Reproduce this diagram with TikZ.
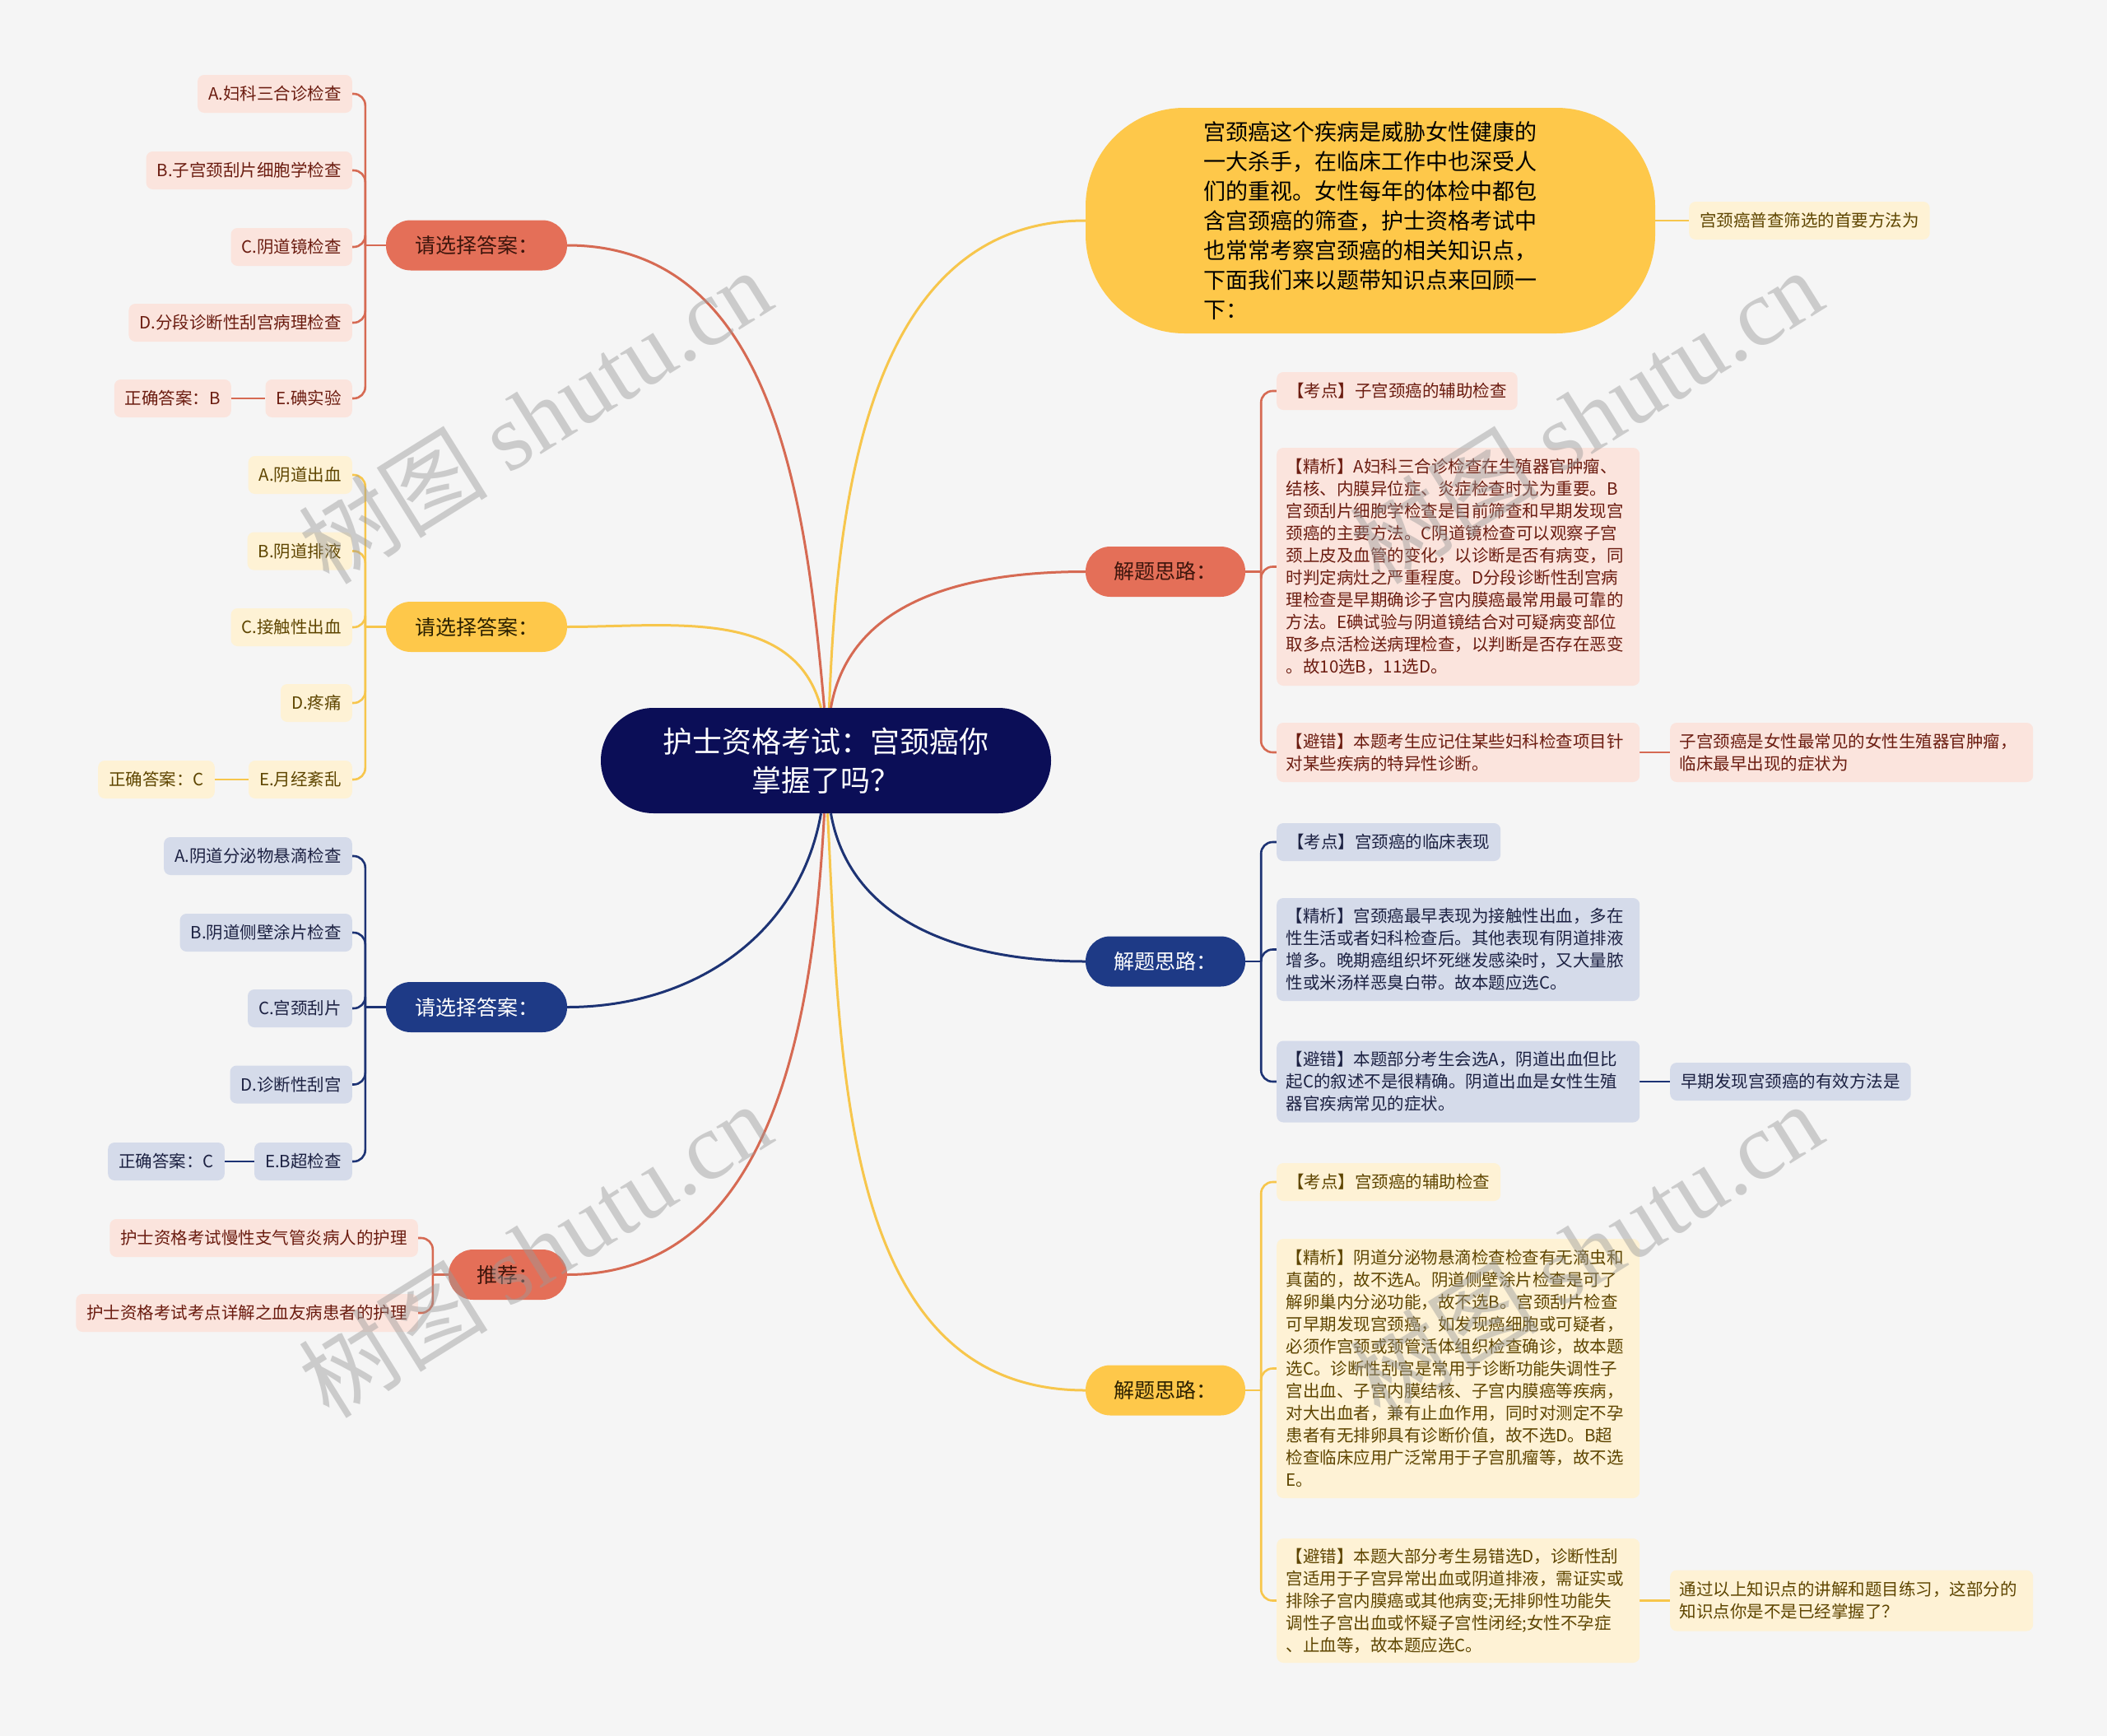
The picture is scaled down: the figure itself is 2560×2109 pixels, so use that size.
\documentclass[tikz,border=0pt]{standalone}
\usepackage{fontspec}
\setmainfont{Noto Sans CJK SC}
\newfontfamily\markfont{Liberation Serif}
\usetikzlibrary{positioning,backgrounds}
\definecolor{Canvas}{HTML}{F5F5F5}
\definecolor{RootFill}{HTML}{0B0E57}
\definecolor{CoralMain}{HTML}{E46F58}
\definecolor{CoralLine}{HTML}{D66A53}
\definecolor{CoralSoft}{HTML}{FBE4DD}
\definecolor{CoralText}{HTML}{6B1C10}
\definecolor{CoralDark}{HTML}{3D150C}
\definecolor{SunMain}{HTML}{FEC84A}
\definecolor{SunLine}{HTML}{F7C64C}
\definecolor{SunSoft}{HTML}{FEF2D5}
\definecolor{SunText}{HTML}{5E4500}
\definecolor{SunDark}{HTML}{2B2000}
\definecolor{NavyMain}{HTML}{1E3A86}
\definecolor{NavyLine}{HTML}{1D3374}
\definecolor{NavySoft}{HTML}{D5DBEA}
\definecolor{NavyText}{HTML}{1C2142}
\definecolor{MarkGray}{HTML}{9A9A9A}

\begin{document}
\begin{tikzpicture}[
    x=1pt, y=1pt,
    rootnode/.style={rounded corners=64pt, fill=RootFill, text=white, minimum width=547pt, minimum height=128pt, align=center, font=\fontsize{36}{47}\selectfont},
    introbox/.style={rounded corners=120pt, fill=SunMain, text=black, minimum width=692pt, minimum height=274pt, text width=406pt, align=left, font=\fontsize{27}{36}\selectfont},
    branchnode/.style={rounded corners=30pt, minimum height=61pt, align=center, font=\fontsize{25}{30}\selectfont},
    leafbox/.style={rounded corners=8pt, minimum height=46pt, inner xsep=13pt, inner ysep=0pt, font=\fontsize{20.5}{27}\selectfont},
    textbox/.style={rounded corners=8pt, inner xsep=11.5pt, inner ysep=0pt, text width=418pt, align=left, font=\fontsize{20.5}{27}\selectfont},
    coralbranch/.style={branchnode, fill=CoralMain, text=CoralDark},
    sunbranch/.style={branchnode, fill=SunMain, text=SunDark},
    navybranch/.style={branchnode, fill=NavyMain, text=white},
    coralleaf/.style={leafbox, fill=CoralSoft, text=CoralText},
    sunleaf/.style={leafbox, fill=SunSoft, text=SunText},
    navyleaf/.style={leafbox, fill=NavySoft, text=NavyText},
    coralbox/.style={textbox, fill=CoralSoft, text=CoralText},
    sunbox/.style={textbox, fill=SunSoft, text=SunText},
    navybox/.style={textbox, fill=NavySoft, text=NavyText},
    mainline/.style={line width=3pt},
    twig/.style={line width=2.6pt, rounded corners=14pt},
    markstyle/.style={rotate=32, text=MarkGray, opacity=0.45, font=\fontsize{115}{115}\selectfont}
]

\node[rootnode] (root) at (1003.5,-924) {护士资格考试：宫颈癌你\\掌握了吗？};

\node[introbox] (intro) at (1665,-268) {宫颈癌这个疾病是威胁女性健康的\\一大杀手，在临床工作中也深受人\\们的重视。女性每年的体检中都包\\含宫颈癌的筛查，护士资格考试中\\也常常考察宫颈癌的相关知识点，\\下面我们来以题带知识点来回顾一\\下：};
\node[sunleaf, anchor=west] (intronote) at (2052,-268) {宫颈癌普查筛选的首要方法为};

\node[coralbranch, minimum width=194pt] (rsolve) at (1416,-694.5) {解题思路：};
\node[coralleaf, anchor=west] (rpoint) at (1551,-475) {【考点】子宫颈癌的辅助检查};
\node[coralbox, anchor=west, minimum height=289pt] (rdetail) at (1551,-688.5) {【精析】A妇科三合诊检查在生殖器官肿瘤、\\结核、内膜异位症、炎症检查时尤为重要。B\\宫颈刮片细胞学检查是目前筛查和早期发现宫\\颈癌的主要方法。C阴道镜检查可以观察子宫\\颈上皮及血管的变化，以诊断是否有病变，同\\时判定病灶之严重程度。D分段诊断性刮宫病\\理检查是早期确诊子宫内膜癌最常用最可靠的\\方法。E碘试验与阴道镜结合对可疑病变部位\\取多点活检送病理检查，以判断是否存在恶变\\。故10选B，11选D。};
\node[coralbox, anchor=west, minimum height=72pt] (rtrap) at (1551,-914) {【避错】本题考生应记住某些妇科检查项目针\\对某些疾病的特异性诊断。};
\node[coralbox, anchor=west, minimum height=72pt] (rtrapnote) at (2029,-914) {子宫颈癌是女性最常见的女性生殖器官肿瘤，\\临床最早出现的症状为};

\node[navybranch, minimum width=194pt] (bsolve) at (1416,-1168) {解题思路：};
\node[navyleaf, anchor=west] (bpoint) at (1551,-1023) {【考点】宫颈癌的临床表现};
\node[navybox, anchor=west, minimum height=125pt] (bdetail) at (1551,-1153.5) {【精析】宫颈癌最早表现为接触性出血，多在\\性生活或者妇科检查后。其他表现有阴道排液\\增多。晚期癌组织坏死继发感染时，又大量脓\\性或米汤样恶臭白带。故本题应选C。};
\node[navybox, anchor=west, minimum height=99pt] (btrap) at (1551,-1314) {【避错】本题部分考生会选A，阴道出血但比\\起C的叙述不是很精确。阴道出血是女性生殖\\器官疾病常见的症状。};
\node[navyleaf, anchor=west] (btrapnote) at (2029,-1314) {早期发现宫颈癌的有效方法是};

\node[sunbranch, minimum width=194pt] (ysolve) at (1416,-1689) {解题思路：};
\node[sunleaf, anchor=west] (ypoint) at (1551,-1436) {【考点】宫颈癌的辅助检查};
\node[sunbox, anchor=west, minimum height=315pt] (ydetail) at (1551,-1662.5) {【精析】阴道分泌物悬滴检查检查有无滴虫和\\真菌的，故不选A。阴道侧壁涂片检查是可了\\解卵巢内分泌功能，故不选B。宫颈刮片检查\\可早期发现宫颈癌，如发现癌细胞或可疑者，\\必须作宫颈或颈管活体组织检查确诊，故本题\\选C。诊断性刮宫是常用于诊断功能失调性子\\宫出血、子宫内膜结核、子宫内膜癌等疾病，\\对大出血者，兼有止血作用，同时对测定不孕\\患者有无排卵具有诊断价值，故不选D。B超\\检查临床应用广泛常用于子宫肌瘤等，故不选\\E。};
\node[sunbox, anchor=west, minimum height=151pt] (ytrap) at (1551,-1944.5) {【避错】本题大部分考生易错选D，诊断性刮\\宫适用于子宫异常出血或阴道排液，需证实或\\排除子宫内膜癌或其他病变;无排卵性功能失\\调性子宫出血或怀疑子宫性闭经;女性不孕症\\、止血等，故本题应选C。};
\node[sunbox, anchor=west, minimum height=74pt] (ytrapnote) at (2029,-1944.5) {通过以上知识点的讲解和题目练习，这部分的\\知识点你是不是已经掌握了？};

\node[coralbranch, minimum width=220pt] (rpick) at (579,-298) {请选择答案：};
\node[coralleaf, anchor=east] (ra) at (428,-114) {A.妇科三合诊检查};
\node[coralleaf, anchor=east] (rb) at (428,-207) {B.子宫颈刮片细胞学检查};
\node[coralleaf, anchor=east] (rc) at (428,-300) {C.阴道镜检查};
\node[coralleaf, anchor=east] (rd) at (428,-392) {D.分段诊断性刮宫病理检查};
\node[coralleaf, anchor=east] (re) at (428,-484) {E.碘实验};
\node[coralleaf, anchor=east] (rkey) at (281,-484) {正确答案：B};

\node[sunbranch, minimum width=220pt] (ypick) at (579,-761.5) {请选择答案：};
\node[sunleaf, anchor=east] (ya) at (428,-577) {A.阴道出血};
\node[sunleaf, anchor=east] (yb) at (428,-669.5) {B.阴道排液};
\node[sunleaf, anchor=east] (yc) at (428,-762) {C.接触性出血};
\node[sunleaf, anchor=east] (yd) at (428,-854) {D.疼痛};
\node[sunleaf, anchor=east] (ye) at (428,-947) {E.月经紊乱};
\node[sunleaf, anchor=east] (ykey) at (261,-947) {正确答案：C};

\node[navybranch, minimum width=220pt] (bpick) at (579,-1223.5) {请选择答案：};
\node[navyleaf, anchor=east] (ba) at (428,-1040) {A.阴道分泌物悬滴检查};
\node[navyleaf, anchor=east] (bb) at (428,-1133) {B.阴道侧壁涂片检查};
\node[navyleaf, anchor=east] (bc) at (428,-1225) {C.宫颈刮片};
\node[navyleaf, anchor=east] (bd) at (428,-1317.5) {D.诊断性刮宫};
\node[navyleaf, anchor=east] (be) at (428,-1411) {E.B超检查};
\node[navyleaf, anchor=east] (bkey) at (273,-1411) {正确答案：C};

\node[coralbranch, minimum width=144pt] (recom) at (617,-1548.5) {推荐：};
\node[coralleaf, anchor=east] (rec1) at (508,-1504) {护士资格考试慢性支气管炎病人的护理};
\node[coralleaf, anchor=east] (rec2) at (508,-1595) {护士资格考试考点详解之血友病患者的护理};

\begin{scope}[on background layer]
    \fill[Canvas] (0,0) rectangle (2560,-2109);

    \draw[mainline, SunLine] ([xshift=4pt]root.north) to[out=88,in=180] (intro.west);
    \draw[mainline, CoralLine] ([xshift=6pt]root.north) to[out=80,in=180] (rsolve.west);
    \draw[mainline, CoralLine] ([xshift=-2pt]root.north) to[out=95,in=0] (rpick.east);
    \draw[mainline, SunLine] ([xshift=-6pt]root.north) to[out=105,in=0] (ypick.east);
    \draw[mainline, NavyLine] ([xshift=-6pt]root.south) to[out=-100,in=0] (bpick.east);
    \draw[mainline, CoralLine] ([xshift=-2pt]root.south) to[out=-93,in=0] (recom.east);
    \draw[mainline, NavyLine] ([xshift=6pt]root.south) to[out=-80,in=180] (bsolve.west);
    \draw[mainline, SunLine] ([xshift=2pt]root.south) to[out=-87,in=180] (ysolve.west);

    \draw[twig, SunLine] (intro.east) -- (intronote.west);

    \draw[twig, CoralLine] (rsolve.east) -- ([xshift=19pt]rsolve.east);
    \foreach \leaf in {rpoint,rdetail,rtrap}
        \draw[twig, CoralLine] ([xshift=19pt]rsolve.east) |- (\leaf.west);
    \draw[twig, CoralLine] (rtrap.east) -- (rtrapnote.west);

    \draw[twig, NavyLine] (bsolve.east) -- ([xshift=19pt]bsolve.east);
    \foreach \leaf in {bpoint,bdetail,btrap}
        \draw[twig, NavyLine] ([xshift=19pt]bsolve.east) |- (\leaf.west);
    \draw[twig, NavyLine] (btrap.east) -- (btrapnote.west);

    \draw[twig, SunLine] (ysolve.east) -- ([xshift=19pt]ysolve.east);
    \foreach \leaf in {ypoint,ydetail,ytrap}
        \draw[twig, SunLine] ([xshift=19pt]ysolve.east) |- (\leaf.west);
    \draw[twig, SunLine] (ytrap.east) -- (ytrapnote.west);

    \draw[twig, CoralLine] (rpick.west) -- ([xshift=-25pt]rpick.west);
    \foreach \leaf in {ra,rb,rc,rd,re}
        \draw[twig, CoralLine] ([xshift=-25pt]rpick.west) |- (\leaf.east);
    \draw[twig, CoralLine] (rkey.east) -- (re.west);

    \draw[twig, SunLine] (ypick.west) -- ([xshift=-25pt]ypick.west);
    \foreach \leaf in {ya,yb,yc,yd,ye}
        \draw[twig, SunLine] ([xshift=-25pt]ypick.west) |- (\leaf.east);
    \draw[twig, SunLine] (ykey.east) -- (ye.west);

    \draw[twig, NavyLine] (bpick.west) -- ([xshift=-25pt]bpick.west);
    \foreach \leaf in {ba,bb,bc,bd,be}
        \draw[twig, NavyLine] ([xshift=-25pt]bpick.west) |- (\leaf.east);
    \draw[twig, NavyLine] (bkey.east) -- (be.west);

    \draw[twig, CoralLine] (recom.west) -- ([xshift=-19pt]recom.west);
    \foreach \leaf in {rec1,rec2}
        \draw[twig, CoralLine] ([xshift=-19pt]recom.west) |- (\leaf.east);
\end{scope}

\node[markstyle] (wm1) at (650,-505) {树图 {\markfont shutu.cn}};
\node[markstyle] (wm2) at (1927,-505) {树图 {\markfont shutu.cn}};
\node[markstyle] (wm3) at (650,-1518) {树图 {\markfont shutu.cn}};
\node[markstyle] (wm4) at (1927,-1518) {树图 {\markfont shutu.cn}};

\end{tikzpicture}
\end{document}
